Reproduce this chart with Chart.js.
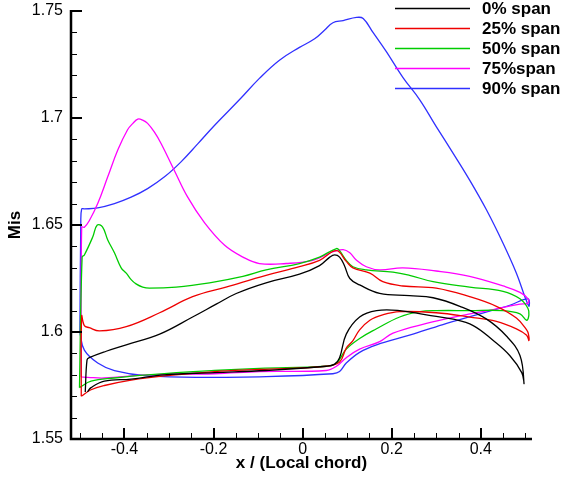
<!DOCTYPE html>
<html>
<head>
<meta charset="utf-8">
<script src="https://cdn.jsdelivr.net/npm/chart.js@4.4.1/dist/chart.umd.min.js"></script>
<style>
  body { margin: 0; background: #fff; }
  #wrap { width: 563px; height: 481px; }
</style>
</head>
<body>
<div id="wrap"><canvas id="misChart" width="563" height="481"></canvas></div>
<script>
// isentropic Mach number around the blade, one closed loop per span station
const spanLabels = ['0% span', '25% span', '50% span', '75%span', '90% span'];
const spanColors = ['#000000', '#ee0000', '#00cc00', '#ff00ff', '#3030ff'];

const span0X = [-0.488, -0.484, -0.479, -0.441, -0.396, -0.321, -0.247, -0.194, -0.149, -0.082, -0.007, 0.038, 0.061, 0.072, 0.083, 0.094, 0.106, 0.128, 0.173, 0.240, 0.293, 0.353, 0.413, 0.458, 0.488, 0.497,
  0.492, 0.465, 0.428, 0.383, 0.338, 0.278, 0.218, 0.166, 0.128, 0.098, 0.083, 0.072, 0.053, -0.082, -0.198, -0.310, -0.385, -0.445, -0.475, -0.483];
const span0Y = [1.572, 1.587, 1.588, 1.591, 1.594, 1.599, 1.607, 1.613, 1.618, 1.623, 1.627, 1.631, 1.635, 1.636, 1.635, 1.631, 1.625, 1.622, 1.618, 1.617, 1.616, 1.612, 1.606, 1.598, 1.589, 1.576,
  1.581, 1.589, 1.596, 1.603, 1.606, 1.608, 1.610, 1.610, 1.607, 1.599, 1.588, 1.585, 1.584, 1.582, 1.581, 1.580, 1.578, 1.577, 1.574, 1.572];

const span25X = [-0.497, -0.496, -0.490, -0.479, -0.456, -0.396, -0.321, -0.247, -0.172, -0.082, -0.007, 0.038, 0.076, 0.098, 0.113, 0.151, 0.180, 0.225, 0.300, 0.375, 0.435, 0.480, 0.503, 0.507,
  0.508, 0.503, 0.480, 0.435, 0.375, 0.300, 0.218, 0.180, 0.151, 0.128, 0.113, 0.098, 0.083, 0.053, -0.097, -0.198, -0.310, -0.385, -0.445, -0.475, -0.497];
const span25Y = [1.570, 1.6075, 1.603, 1.602, 1.6005, 1.6025, 1.609, 1.6165, 1.621, 1.6265, 1.6305, 1.6335, 1.638, 1.633, 1.630, 1.6275, 1.6235, 1.6215, 1.6205, 1.6165, 1.612, 1.6065, 1.601, 1.599,
  1.596, 1.5985, 1.6015, 1.605, 1.607, 1.609, 1.6095, 1.608, 1.6055, 1.601, 1.596, 1.5925, 1.586, 1.584, 1.5825, 1.5815, 1.5795, 1.5775, 1.575, 1.573, 1.570];

const span50X = [-0.501, -0.495, -0.490, -0.471, -0.461, -0.449, -0.4375, -0.4225, -0.4074, -0.396, -0.385, -0.374, -0.359, -0.344, -0.284, -0.209, -0.134, -0.082, -0.007, 0.038, 0.076, 0.083, 0.098, 0.113, 0.143, 0.203, 0.240, 0.293, 0.375, 0.450, 0.488, 0.506,
  0.508, 0.503, 0.488, 0.450, 0.375, 0.300, 0.263, 0.218, 0.166, 0.128, 0.098, 0.076, 0.053, -0.097, -0.198, -0.348, -0.423, -0.475, -0.501];
const span50Y = [1.574, 1.635, 1.636, 1.6445, 1.650, 1.649, 1.643, 1.637, 1.630, 1.6275, 1.6245, 1.6225, 1.621, 1.6205, 1.621, 1.623, 1.626, 1.629, 1.632, 1.635, 1.639, 1.638, 1.6335, 1.6305, 1.629, 1.628, 1.6265, 1.6235, 1.621, 1.619, 1.6155, 1.611,
  1.608, 1.6055, 1.6085, 1.610, 1.610, 1.610, 1.6095, 1.607, 1.6015, 1.597, 1.592, 1.5855, 1.584, 1.583, 1.582, 1.580, 1.5785, 1.577, 1.574];

const span75X = [-0.497, -0.496, -0.490, -0.479, -0.460, -0.4375, -0.415, -0.393, -0.381, -0.370, -0.359, -0.348, -0.333, -0.3175, -0.288, -0.258, -0.220, -0.175, -0.134, -0.097, -0.037, 0.023, 0.068, 0.091, 0.106, 0.121, 0.143, 0.173, 0.225, 0.300, 0.375, 0.450, 0.488, 0.506,
  0.506, 0.488, 0.428, 0.353, 0.278, 0.203, 0.173, 0.128, 0.098, 0.076, 0.053, -0.097, -0.198, -0.348, -0.445, -0.4825, -0.497];
const span75Y = [1.579, 1.649, 1.649, 1.652, 1.660, 1.6725, 1.685, 1.6945, 1.6975, 1.6995, 1.699, 1.6975, 1.6935, 1.688, 1.6755, 1.663, 1.651, 1.6405, 1.635, 1.632, 1.632, 1.6335, 1.6375, 1.6385, 1.637, 1.6335, 1.6305, 1.629, 1.630, 1.6285, 1.626, 1.6215, 1.6185, 1.6155,
  1.6135, 1.613, 1.6105, 1.6075, 1.604, 1.5995, 1.5955, 1.592, 1.588, 1.584, 1.582, 1.5815, 1.5805, 1.580, 1.5785, 1.5788, 1.579];

const span90X = [-0.500, -0.498, -0.496, -0.490, -0.460, -0.4225, -0.385, -0.348, -0.310, -0.273, -0.235, -0.198, -0.142, -0.097, -0.052, -0.007, 0.027, 0.049, 0.068, 0.091, 0.121, 0.136, 0.158, 0.188, 0.225, 0.263, 0.300, 0.338, 0.375, 0.413, 0.450, 0.480, 0.499, 0.508,
  0.506, 0.465, 0.390, 0.315, 0.240, 0.166, 0.128, 0.098, 0.083, 0.068, -0.097, -0.198, -0.348, -0.4225, -0.460, -0.490, -0.500];
const span90Y = [1.5995, 1.651, 1.6575, 1.6575, 1.658, 1.660, 1.663, 1.667, 1.6725, 1.6795, 1.688, 1.6965, 1.7085, 1.7185, 1.727, 1.733, 1.737, 1.741, 1.7445, 1.7455, 1.747, 1.7465, 1.740, 1.731, 1.719, 1.7085, 1.696, 1.6835, 1.671, 1.657, 1.6415, 1.6275, 1.6165, 1.612,
  1.6155, 1.6125, 1.608, 1.6035, 1.5985, 1.594, 1.5905, 1.5855, 1.5815, 1.5805, 1.579, 1.5788, 1.5795, 1.582, 1.5855, 1.5915, 1.5995];

const xTicks = [-0.4, -0.2, 0, 0.2, 0.4];
const xTickLabels = ['-0.4', '-0.2', '0', '0.2', '0.4'];
const yTicks = [1.55, 1.6, 1.65, 1.7, 1.75];
const yTickLabels = ['1.55', '1.6', '1.65', '1.7', '1.75'];

const spanX = [span0X, span25X, span50X, span75X, span90X];
const spanY = [span0Y, span25Y, span50Y, span75Y, span90Y];

const FONT = "'Liberation Sans', Arial, sans-serif";

// inward tick marks, axis lines and the legend box in the top right
const axesAndLegend = {
  id: 'axesAndLegend',
  afterDraw(chart) {
    const ctx = chart.ctx;
    const xs = chart.scales.x, ys = chart.scales.y;
    const a = chart.chartArea;
    ctx.save();
    ctx.strokeStyle = '#000';

    // minor ticks
    ctx.lineWidth = 1;
    ctx.beginPath();
    for (let i = 0; i <= 20; i++) {
      const v = Math.round((-0.5 + i * 0.05) * 100) / 100;
      const px = Math.round(xs.getPixelForValue(v)) + 0.5;
      ctx.moveTo(px, a.bottom);
      ctx.lineTo(px, a.bottom - 6);
    }
    for (let i = 0; i <= 20; i++) {
      const v = 1.55 + i * 0.01;
      const py = Math.round(ys.getPixelForValue(v)) + 0.5;
      ctx.moveTo(a.left, py);
      ctx.lineTo(a.left + 6, py);
    }
    ctx.stroke();

    // major ticks
    ctx.lineWidth = 2;
    ctx.beginPath();
    xTicks.forEach(v => {
      const px = Math.round(xs.getPixelForValue(v));
      ctx.moveTo(px, a.bottom);
      ctx.lineTo(px, a.bottom - 11);
    });
    yTicks.forEach(v => {
      const py = Math.round(ys.getPixelForValue(v));
      ctx.moveTo(a.left, py);
      ctx.lineTo(a.left + 11, py);
    });
    ctx.stroke();

    // axis lines
    ctx.lineWidth = 2.5;
    ctx.beginPath();
    ctx.moveTo(a.left, a.top - 1);
    ctx.lineTo(a.left, a.bottom);
    ctx.lineTo(a.right, a.bottom);
    ctx.stroke();

    // legend
    ctx.font = 'bold 17px ' + FONT;
    ctx.textBaseline = 'middle';
    ctx.textAlign = 'left';
    chart.data.datasets.forEach((ds, i) => {
      const y = 8.5 + i * 20;
      ctx.strokeStyle = ds.borderColor;
      ctx.lineWidth = 1.3;
      ctx.beginPath();
      ctx.moveTo(395, y);
      ctx.lineTo(470, y);
      ctx.stroke();
      ctx.fillStyle = '#000';
      ctx.fillText(ds.label, 482, y + 1);
    });
    ctx.restore();
  }
};

const datasets = spanLabels.map((label, i) => ({
  label: label,
  data: spanX[i].map((x, j) => ({ x: x, y: spanY[i][j] })),
  borderColor: spanColors[i],
  borderWidth: 1.3,
  pointRadius: 0,
  showLine: true,
  fill: false,
  tension: 0.4
}));

// drop the automatic label overhang so the plot box sits where it should
const noOverhang = s => {
  s.paddingTop = 0; s.paddingBottom = 0;
  s.paddingLeft = 0; s.paddingRight = 0;
};

new Chart(document.getElementById('misChart'), {
  type: 'scatter',
  data: { datasets: datasets },
  plugins: [axesAndLegend],
  options: {
    responsive: false,
    animation: false,
    devicePixelRatio: 1,
    layout: { padding: { left: 0, right: 31, top: 11, bottom: 0 } },
    plugins: { legend: { display: false }, tooltip: { enabled: false } },
    scales: {
      x: {
        type: 'linear',
        min: -0.52,
        max: 0.515,
        grid: { display: false, drawTicks: false },
        border: { display: false },
        afterBuildTicks: s => { s.ticks = xTicks.map(v => ({ value: v })); },
        afterFit: s => { s.height = 42; noOverhang(s); },
        ticks: {
          autoSkip: false,
          maxRotation: 0,
          padding: 1,
          color: '#000',
          font: { family: FONT, size: 16 },
          callback: (v, i) => xTickLabels[i]
        },
        title: {
          display: true,
          text: 'x / (Local chord)',
          color: '#000',
          font: { family: FONT, size: 17, weight: 'bold' },
          padding: { top: 0, bottom: 7 }
        }
      },
      y: {
        type: 'linear',
        min: 1.55,
        max: 1.75,
        grid: { display: false, drawTicks: false },
        border: { display: false },
        afterBuildTicks: s => { s.ticks = yTicks.map(v => ({ value: v })); },
        afterFit: s => { s.width = 71; noOverhang(s); },
        ticks: {
          autoSkip: false,
          padding: 8,
          color: '#000',
          font: { family: FONT, size: 16 },
          callback: (v, i) => yTickLabels[i]
        },
        title: {
          display: true,
          text: 'Mis',
          color: '#000',
          font: { family: FONT, size: 17, weight: 'bold' },
          padding: { top: 5, bottom: 0 }
        }
      }
    }
  }
});
</script>
</body>
</html>
